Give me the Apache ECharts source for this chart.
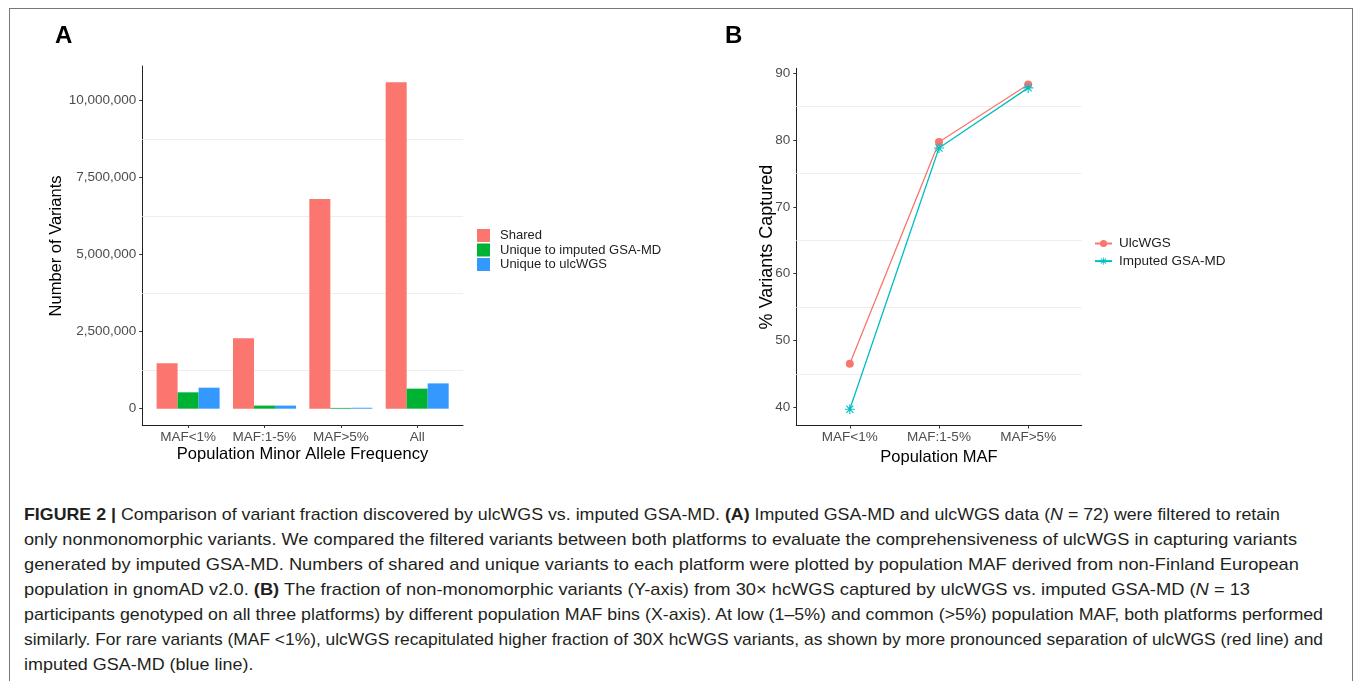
<!DOCTYPE html>
<html>
<head>
<meta charset="utf-8">
<title>Figure 2</title>
<script src="https://cdn.jsdelivr.net/npm/echarts@6/dist/echarts.min.js"></script>
<style>
  html, body { margin: 0; padding: 0; background: #fff; overflow: hidden; width: 1355px; height: 681px; }
  #frame { position: absolute; left: 9px; top: 8px; width: 1342px; height: 700px; border: 1px solid #777; border-bottom: none; }
  #chart { position: absolute; left: 0; top: 0; width: 1355px; height: 495px; }
  .cap { position: absolute; left: 24px; font-family: "Liberation Sans", Arial, sans-serif; font-size: 17px;
         line-height: 20px; color: #231f20; white-space: nowrap; transform-origin: 0 50%; }
</style>
</head>
<body>
<div id="frame"></div>
<div id="chart"></div>
<div id="caption">
  <div class="cap"><b>FIGURE 2 |</b> Comparison of variant fraction discovered by ulcWGS vs. imputed GSA-MD. <b>(A)</b> Imputed GSA-MD and ulcWGS data (<i>N</i> = 72) were filtered to retain</div>
  <div class="cap">only nonmonomorphic variants. We compared the filtered variants between both platforms to evaluate the comprehensiveness of ulcWGS in capturing variants</div>
  <div class="cap">generated by imputed GSA-MD. Numbers of shared and unique variants to each platform were plotted by population MAF derived from non-Finland European</div>
  <div class="cap">population in gnomAD v2.0. <b>(B)</b> The fraction of non-monomorphic variants (Y-axis) from 30× hcWGS captured by ulcWGS vs. imputed GSA-MD (<i>N</i> = 13</div>
  <div class="cap">participants genotyped on all three platforms) by different population MAF bins (X-axis). At low (1–5%) and common (&gt;5%) population MAF, both platforms performed</div>
  <div class="cap">similarly. For rare variants (MAF &lt;1%), ulcWGS recapitulated higher fraction of 30X hcWGS variants, as shown by more pronounced separation of ulcWGS (red line) and</div>
  <div class="cap">imputed GSA-MD (blue line).</div>
</div>
<script>
// panel A - counts of variants
var catsA = ['MAF<1%', 'MAF:1-5%', 'MAF>5%', 'All'];
var shared = [1476000, 2280000, 6800000, 10580000];
var uniqueGsa = [530000, 100000, 25000, 650000];
var uniqueUlc = [680000, 100000, 30000, 820000];
var ticksA = [0, 2500000, 5000000, 7500000, 10000000];
var minorA = [1250000, 3750000, 6250000, 8750000];

// panel B - % captured
var catsB = ['MAF<1%', 'MAF:1-5%', 'MAF>5%'];
var ulcWgs = [46.5, 79.7, 88.3];
var imputed = [39.7, 78.8, 87.8];
var ticksB = [40, 50, 60, 70, 80, 90];
var minorB = [45, 55, 65, 75, 85];

var FONT = '"Liberation Sans", Arial, sans-serif';

function pairs(arr) {
    return arr.map(function (v, i) { return [i, v]; });
}

// asterisk (ggplot shape 8) as a filled path
var asterisk = 'path://M-10,-1.1L10,-1.1L10,1.1L-10,1.1Z' +
    'M-1.1,-10L1.1,-10L1.1,10L-1.1,10Z' +
    'M-6.29,-7.85L7.85,6.29L6.29,7.85L-7.85,-6.29Z' +
    'M-7.85,6.29L6.29,-7.85L7.85,-6.29L-6.29,7.85Z';

function axisX(grid, cats, max) {
    var vals = cats.map(function (c, i) { return i; });
    return {
        gridIndex: grid, type: 'value', min: -0.6, max: max,
        splitLine: {show: false},
        axisLine: {show: true, onZero: false, lineStyle: {color: '#222', width: 1}},
        axisTick: {show: true, customValues: vals, length: 3, lineStyle: {color: '#333'}},
        axisLabel: {
            customValues: vals, margin: 5, fontSize: 13.5, color: '#4d4d4d', fontFamily: FONT,
            formatter: function (v) { return cats[Math.round(v)]; }
        }
    };
}

function axisY(grid, min, max, ticks, fmt) {
    return {
        gridIndex: grid, type: 'value', min: min, max: max,
        splitLine: {show: false},
        axisLine: {show: true, onZero: false, lineStyle: {color: '#222', width: 1}},
        axisTick: {show: true, customValues: ticks, length: 3, lineStyle: {color: '#333'}},
        axisLabel: {customValues: ticks, margin: 6, fontSize: 13.5, color: '#4d4d4d', fontFamily: FONT, formatter: fmt}
    };
}

function gridLines(xi, yi, vals) {
    return {
        type: 'line', xAxisIndex: xi, yAxisIndex: yi, data: [], z: 1, silent: true,
        markLine: {
            z: 1, silent: true, symbol: ['none', 'none'], label: {show: false}, animation: false,
            lineStyle: {color: '#eeeeee', width: 1, type: 'solid'},
            emphasis: {disabled: true},
            data: vals.map(function (v) { return {yAxis: v}; })
        }
    };
}

function txt(text, x, y, size, rot, bold) {
    return {
        type: 'text', x: x, y: y, rotation: rot || 0, silent: true,
        style: {
            text: text, fontSize: size, fontFamily: FONT, fontWeight: bold ? 'bold' : 'normal', fill: '#000',
            align: bold ? 'left' : 'center', verticalAlign: 'middle',
            textAlign: bold ? 'left' : 'center', textVerticalAlign: 'middle'
        }
    };
}

var myChart = echarts.init(document.getElementById('chart'));

var option = {
    animation: false,
    grid: [
        {left: 142.3, top: 66, width: 320.7, height: 359},
        {left: 796.3, top: 68.3, width: 285.4, height: 357.2}
    ],
    xAxis: [
        axisX(0, catsA, 3.6),
        axisX(1, catsB, 2.6)
    ],
    yAxis: [
        axisY(0, -529000, 11109000, ticksA, function (v) { return v.toLocaleString('en-US'); }),
        axisY(1, 37.27, 90.73, ticksB, function (v) { return String(v); })
    ],
    legend: [
        {
            orient: 'vertical', left: 472, top: 224, itemWidth: 13, itemHeight: 13, itemGap: 1.5,
            icon: 'rect', selectedMode: false,
            textStyle: {fontSize: 13, color: '#222', fontFamily: FONT, lineHeight: 13, padding: [0, 0, 0, 5]},
            data: ['Shared', 'Unique to imputed GSA-MD', 'Unique to ulcWGS']
        },
        {
            orient: 'vertical', left: 1089, top: 231.5, itemWidth: 17, itemHeight: 9, itemGap: 3.6,
            selectedMode: false,
            textStyle: {fontSize: 13.5, color: '#222', fontFamily: FONT, lineHeight: 13, padding: [0, 0, 0, 2]},
            data: ['UlcWGS', 'Imputed GSA-MD']
        }
    ],
    series: [
        gridLines(0, 0, minorA),
        gridLines(1, 1, minorB),
        {
            name: 'Shared', type: 'bar', xAxisIndex: 0, yAxisIndex: 0, z: 3,
            data: pairs(shared), barWidth: 21, barGap: '0%',
            itemStyle: {color: '#fa766f'}
        },
        {
            name: 'Unique to imputed GSA-MD', type: 'bar', xAxisIndex: 0, yAxisIndex: 0, z: 3,
            data: pairs(uniqueGsa), barWidth: 21, barGap: '0%',
            itemStyle: {color: '#00b233'}
        },
        {
            name: 'Unique to ulcWGS', type: 'bar', xAxisIndex: 0, yAxisIndex: 0, z: 3,
            data: pairs(uniqueUlc), barWidth: 21, barGap: '0%',
            itemStyle: {color: '#3399ff'}
        },
        {
            name: 'UlcWGS', type: 'line', xAxisIndex: 1, yAxisIndex: 1, z: 3,
            data: pairs(ulcWgs), symbol: 'circle', symbolSize: 8,
            lineStyle: {color: '#f8766d', width: 1.3},
            itemStyle: {color: '#f8766d', borderWidth: 0}
        },
        {
            name: 'Imputed GSA-MD', type: 'line', xAxisIndex: 1, yAxisIndex: 1, z: 4,
            data: pairs(imputed), symbol: asterisk, symbolSize: 10,
            lineStyle: {color: '#00bfc4', width: 1.3},
            itemStyle: {color: '#00bfc4', borderWidth: 0}
        }
    ],
    graphic: [
        txt('A', 55, 36.5, 24, 0, true),
        txt('B', 725, 36, 24, 0, true),
        txt('Number of Variants', 56.7, 246, 16.5, Math.PI / 2),
        txt('Population Minor Allele Frequency', 302.5, 454, 16.5),
        txt('% Variants Captured', 767, 247, 18, Math.PI / 2),
        txt('Population MAF', 939, 457, 16.5)
    ]
};

myChart.setOption(option);

// caption lines: place and stretch to the widths seen in the figure
var capEnds = [1280, 1297, 1299, 1250, 1323, 1323];
var lines = document.querySelectorAll('.cap');
var scales = [];
for (var i = 0; i < lines.length; i++) {
    var el = lines[i];
    el.style.top = (515 + 25 * i - 10) + 'px';
    var w = el.getBoundingClientRect().width;
    var s;
    if (i < capEnds.length) {
        s = (capEnds[i] - 24) / w;
        scales.push(s);
    } else {
        s = scales.reduce(function (a, b) { return a + b; }, 0) / scales.length;
    }
    el.style.transform = 'scaleX(' + s.toFixed(4) + ')';
}
</script>
</body>
</html>
